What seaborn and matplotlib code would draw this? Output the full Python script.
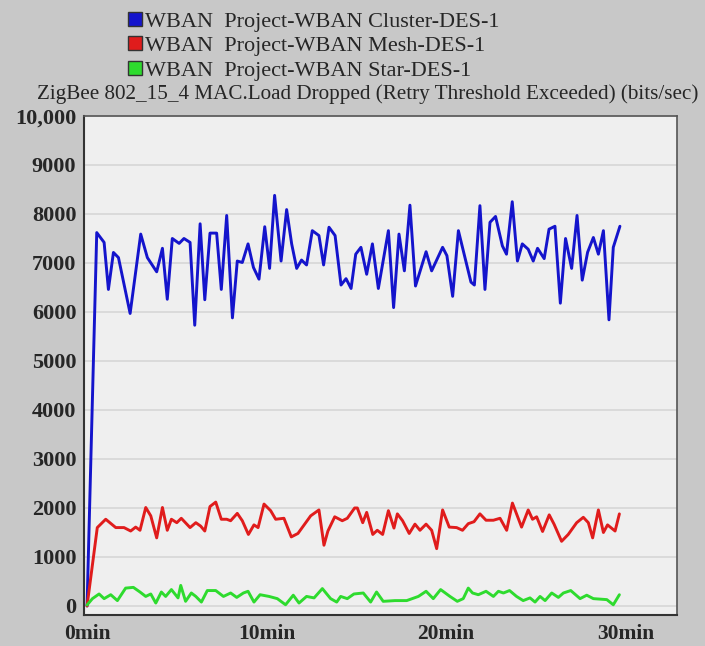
import pandas as pd
import numpy as np
import matplotlib.pyplot as plt
import seaborn as sns
from matplotlib.lines import Line2D

# time in minutes, values in bits/sec
cluster_t = [0.0, 0.54, 0.95, 1.19, 1.47, 1.75, 2.40, 2.99, 3.36, 3.88, 4.20, 4.47, 4.75, 5.13,
             5.40, 5.74, 6.00, 6.30, 6.56, 6.85, 7.22, 7.48, 7.78, 8.10, 8.37, 8.65, 8.97, 9.27,
             9.58, 9.90, 10.17, 10.45, 10.81, 11.12, 11.40, 11.68, 11.95, 12.23, 12.55, 12.92,
             13.18, 13.48, 13.82, 14.15, 14.43, 14.71, 14.97, 15.26, 15.58, 15.90, 16.23, 16.79,
             17.08, 17.38, 17.68, 17.99, 18.30, 18.89, 19.20, 19.81, 20.05, 20.37, 20.69, 21.39,
             21.58, 21.89, 22.17, 22.45, 22.76, 23.14, 23.37, 23.69, 23.98, 24.25, 24.58, 24.86,
             25.10, 25.47, 25.74, 26.07, 26.37, 26.66, 27.00, 27.30, 27.59, 27.89, 28.21, 28.49,
             28.77, 29.08, 29.32, 29.69]
cluster_v = [0, 7620, 7420, 6460, 7215, 7110, 5970, 7590, 7110, 6820, 7300, 6260, 7500, 7400,
             7500, 7420, 5730, 7800, 6250, 7610, 7610, 6460, 7970, 5880, 7040, 7010, 7390, 6910,
             6670, 7740, 6890, 8380, 7040, 8090, 7390, 6890, 7060, 6960, 7660, 7560,
             6960, 7730, 7560, 6550, 6680, 6480, 7180, 7320, 6770, 7390, 6480, 7660,
             6090, 7590, 6840, 8180, 6530, 7230, 6840, 7320, 7150, 6320, 7660, 6610,
             6550, 8170, 6460, 7830, 7950, 7350, 7180, 8250, 7040, 7390, 7280, 7040,
             7300, 7090, 7690, 7750, 6180, 7500, 6890, 7970, 6650, 7220, 7520, 7180,
             7660, 5840, 7320, 7750]

mesh_t = [0.0, 0.57, 1.04, 1.60, 2.06, 2.43, 2.71, 2.95, 3.27, 3.55, 3.88, 4.20, 4.47, 4.70,
          5.00, 5.25, 5.74, 6.06, 6.33, 6.56, 6.85, 7.17, 7.48, 7.78, 8.00, 8.37, 8.65, 8.99,
          9.30, 9.53, 9.86, 10.23, 10.51, 10.97, 11.38, 11.75, 12.46, 12.92, 13.20, 13.42,
          13.80, 14.22, 14.50, 14.91, 15.06, 15.36, 15.58, 15.92, 16.17, 16.47, 16.79, 17.10,
          17.29, 17.58, 17.95, 18.27, 18.55, 18.89, 19.20, 19.48, 19.81, 20.18, 20.59, 20.92,
          21.24, 21.56, 21.89, 22.23, 22.64, 23.01, 23.38, 23.70, 23.93, 24.21, 24.58, 24.82,
          25.05, 25.38, 25.75, 26.02, 26.44, 26.81, 27.28, 27.65, 27.93, 28.17, 28.49, 28.77,
          29.00, 29.42, 29.66]
mesh_v = [0, 1600, 1770, 1600, 1600, 1530, 1610, 1545, 2010, 1840, 1390, 2010, 1545, 1770,
          1700, 1790, 1600, 1700, 1630, 1530, 2030, 2120, 1770, 1770, 1740, 1890, 1740, 1460,
          1655, 1600, 2080, 1945, 1770, 1790, 1410, 1480, 1840, 1960, 1240, 1530,
          1820, 1740, 1790, 2000, 2000, 1700, 1910, 1460, 1545, 1460, 1945, 1590,
          1880, 1740, 1480, 1670, 1545, 1670, 1545, 1170, 1960, 1610, 1600, 1545,
          1680, 1720, 1880, 1750, 1750, 1790, 1545, 2100, 1880, 1610, 1960, 1770,
          1820, 1520, 1860, 1670, 1320, 1460, 1700, 1810, 1700, 1390, 1960, 1500,
          1655, 1530, 1880]

star_t = [0.0, 0.30, 0.67, 0.95, 1.32, 1.69, 2.15, 2.58, 2.95, 3.27, 3.55, 3.83, 4.14, 4.38,
          4.70, 5.07, 5.22, 5.49, 5.81, 6.06, 6.37, 6.70, 7.17, 7.60, 8.00, 8.34, 8.71, 8.97,
          9.30, 9.64, 10.14, 10.60, 11.06, 11.49, 11.81, 12.23, 12.65, 13.11, 13.57, 13.91,
          14.13, 14.50, 14.87, 15.39, 15.80, 16.13, 16.50, 17.16, 17.81, 18.46, 18.89, 19.29,
          19.70, 20.22, 20.63, 20.96, 21.24, 21.48, 21.80, 22.23, 22.64, 22.92, 23.20, 23.54,
          23.93, 24.30, 24.68, 24.96, 25.24, 25.52, 25.89, 26.26, 26.54, 26.95, 27.47, 27.84,
          28.21, 28.96, 29.32, 29.66]
star_v = [20, 150, 245, 150, 230, 110, 365, 380, 285, 195, 245, 60, 285, 195,
          335, 165, 420, 95, 265, 195, 80, 315, 315, 195, 265, 175, 265, 300,
          80, 230, 195, 150, 25, 220, 60, 195, 165, 355, 150, 80,
          195, 150, 245, 265, 80, 285, 95, 110, 110, 195, 300, 150,
          335, 195, 95, 150, 365, 265, 230, 300, 195, 300, 265, 315,
          195, 110, 165, 80, 195, 110, 265, 175, 265, 315, 150, 220,
          150, 130, 25, 230]

labels = ["WBAN  Project-WBAN Cluster-DES-1",
          "WBAN  Project-WBAN Mesh-DES-1",
          "WBAN  Project-WBAN Star-DES-1"]
colors = ["#1414cc", "#e01c1c", "#2edb2e"]

y_ticks = [0, 1000, 2000, 3000, 4000, 5000, 6000, 7000, 8000, 9000, 10000]
y_tick_labels = ["0", "1000", "2000", "3000", "4000", "5000", "6000", "7000", "8000", "9000", "10,000"]
x_ticks = [0, 10, 20, 30]
x_tick_labels = ["0min", "10min", "20min", "30min"]
title = "ZigBee 802_15_4 MAC.Load Dropped (Retry Threshold Exceeded) (bits/sec)"

df = pd.concat([
    pd.DataFrame({"time": cluster_t, "value": cluster_v, "series": labels[0]}),
    pd.DataFrame({"time": mesh_t, "value": mesh_v, "series": labels[1]}),
    pd.DataFrame({"time": star_t, "value": star_v, "series": labels[2]}),
])

sns.set_style("white")
plt.rcParams['font.family'] = ['Liberation Serif', 'DejaVu Serif']

fig = plt.figure(figsize=(7.05, 6.46), dpi=100, facecolor="#c8c8c8")
ax = fig.add_axes([84 / 705, 1 - 615 / 646, (677 - 84) / 705, (615 - 116) / 646])
ax.set_facecolor("#efefef")

sns.lineplot(data=df, x="time", y="value", hue="series", palette=colors,
             estimator=None, linewidth=2.1, legend=False, ax=ax)

ax.set_xlim(-0.17, 32.87)
ax.set_ylim(-184, 10000)
ax.set_yticks(y_ticks)
ax.set_yticklabels(y_tick_labels, fontsize=16, fontweight="bold")
ax.set_xticks(x_ticks)
ax.set_xticklabels(x_tick_labels, fontsize=15.5, fontweight="bold")
ax.grid(axis="y", color="#d6d6d6", linewidth=1.2)
ax.set_xlabel("")
ax.set_ylabel("")
ax.tick_params(axis="y", direction="out", length=5, width=1.2, color="#333333", pad=0.5)
ax.tick_params(axis="x", direction="out", length=5, width=1.2, color="#333333", pad=1.5)
for side in ["left", "bottom"]:
    ax.spines[side].set_color("#333333")
    ax.spines[side].set_linewidth(1.5)
for side in ["top", "right"]:
    ax.spines[side].set_color("#555555")
    ax.spines[side].set_linewidth(1.2)

handles = [Line2D([0], [0], marker="s", linestyle="none", markersize=10,
                  markerfacecolor=c, markeredgecolor="#333333") for c in colors]
fig.legend(handles, labels, loc="upper left", bbox_to_anchor=(117 / 705, 1.0),
           frameon=False, fontsize=16, handlelength=0.6, handletextpad=0.15,
           labelspacing=0.18, borderpad=0)

fig.text(368 / 705, 1 - 94 / 646, title, ha="center", va="center", fontsize=15.2)

fig.savefig("out.png", dpi=100, facecolor=fig.get_facecolor())
plt.close(fig)
